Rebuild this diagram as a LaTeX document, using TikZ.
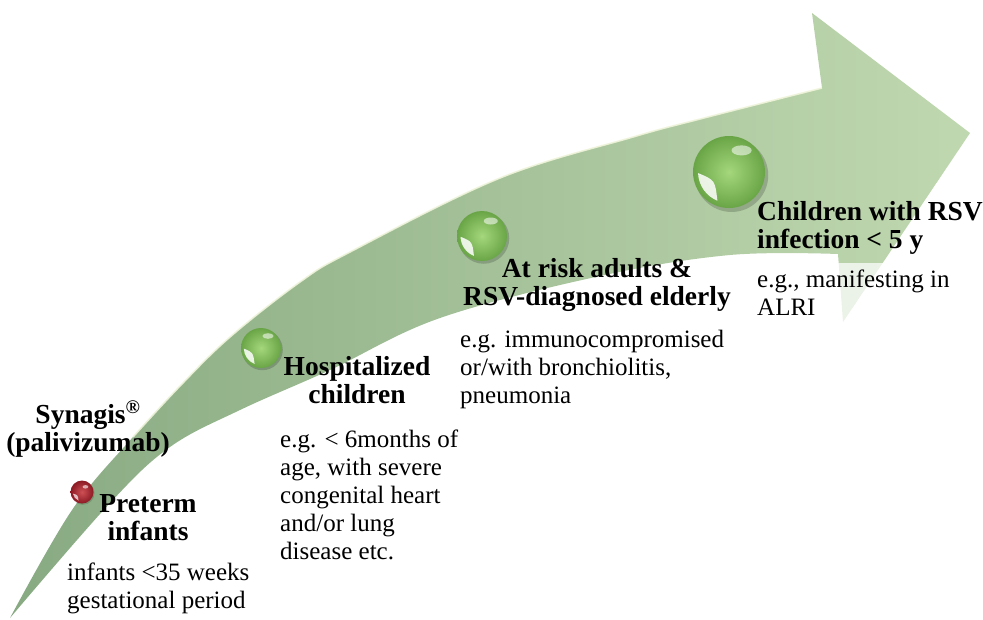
\documentclass[tikz,border=0pt]{standalone}
\usepackage{fontspec}
\setmainfont{Liberation Serif}
\definecolor{tailG}{RGB}{136,170,130}
\definecolor{midG}{RGB}{170,198,156}
\definecolor{headG}{RGB}{192,216,176}
\definecolor{edgeHL}{RGB}{240,245,220}
\definecolor{ballIn}{RGB}{165,215,125}
\definecolor{ballOut}{RGB}{105,165,70}
\definecolor{redIn}{RGB}{205,80,85}
\definecolor{redOut}{RGB}{140,25,35}
\tikzset{
  titletext/.style={font=\fontsize{27.5}{28}\selectfont\bfseries, inner sep=0pt},
  bodytext/.style={font=\fontsize{25}{28}\selectfont, inner sep=0pt, align=left},
  pics/gball/.style={code={
    \fill[black,opacity=0.18] (0.07,0.09) circle (1.02);
    \shade[inner color=ballIn, outer color=ballOut] (0,0) circle (1);
    \fill[white,opacity=0.55] (0.35,-0.6) ellipse (0.28 and 0.14);
    \fill[white,opacity=0.85] (112:0.86) arc[start angle=112,end angle=178,radius=0.86] .. controls (150:0.45) .. cycle;
  }},
  pics/rball/.style={code={
    \fill[black,opacity=0.15] (0.07,0.09) circle (1.02);
    \shade[inner color=redIn, outer color=redOut] (0,0) circle (1);
    \fill[white,opacity=0.6] (0.3,-0.45) ellipse (0.25 and 0.15);
    \fill[white,opacity=0.7] (112:0.8) arc[start angle=112,end angle=170,radius=0.8] .. controls (145:0.45) .. cycle;
  }}
}
\begin{document}
\begin{tikzpicture}[x=1pt,y=-1pt]
\useasboundingbox (0,0) rectangle (983,619);
% arrow
\shade[left color=tailG, middle color=midG, right color=headG]
  (10,618) -- plot[smooth, tension=0.6] coordinates {(10,618) (72,510) (133,437) (180,386) (230,337) (300,282) (350,252) (500,178) (633,137) (700,119) (822,88)}
  -- (812,13) -- (970,133) -- (843,322) -- (838,254)
  -- plot[smooth, tension=0.6] coordinates {(838,254) (730,255) (600,276) (440,318) (330,370) (240,410) (170,447) (110,503) (10,618)} -- cycle;
\draw[edgeHL, line width=1.6pt, opacity=0.9] plot[smooth, tension=0.6] coordinates {(133,437) (180,386) (230,337) (300,282) (350,252) (500,178) (633,137) (700,119) (822,88)};
% balls
\pic (b0) at (82,492) [scale=11.5] {rball};
\pic (b1) at (261,348) [scale=20] {gball};
\pic (b2) at (482,236) [scale=25] {gball};
\pic (b3) at (729,172) [scale=36] {gball};
% white text boxes
\fill[white] (64,557) rectangle (258,619);
\fill[white,opacity=0.72] (743,263) rectangle (983,345);
% texts (anchor = baseline of the last line)
\node[titletext, align=center, anchor=base] (syn) at (88,451) {Synagis\textsuperscript{\textregistered}\\(palivizumab)};
\node[titletext, align=center, anchor=base] (pre) at (148,540) {Preterm\\infants};
\node[bodytext, anchor=base west] (preB) at (67,608) {infants <35 weeks\\gestational period};
\node[titletext, align=center, anchor=base] (hos) at (357,403) {Hospitalized\\children};
\node[bodytext, anchor=base west] (hosB) at (280,559) {e.g. < 6months of\\age, with severe\\congenital heart\\and/or lung\\disease etc.};
\node[titletext, align=center, anchor=base] (risk) at (597,305) {At risk adults \&\\RSV-diagnosed elderly};
\node[bodytext, anchor=base west] (riskB) at (460,403) {e.g. immunocompromised\\or/with bronchiolitis,\\pneumonia};
\node[titletext, align=left, anchor=base west] (chi) at (757,248) {Children with RSV\\infection < 5 y};
\node[bodytext, anchor=base west] (chiB) at (757,315) {e.g., manifesting in\\ALRI};
\end{tikzpicture}
\end{document}
